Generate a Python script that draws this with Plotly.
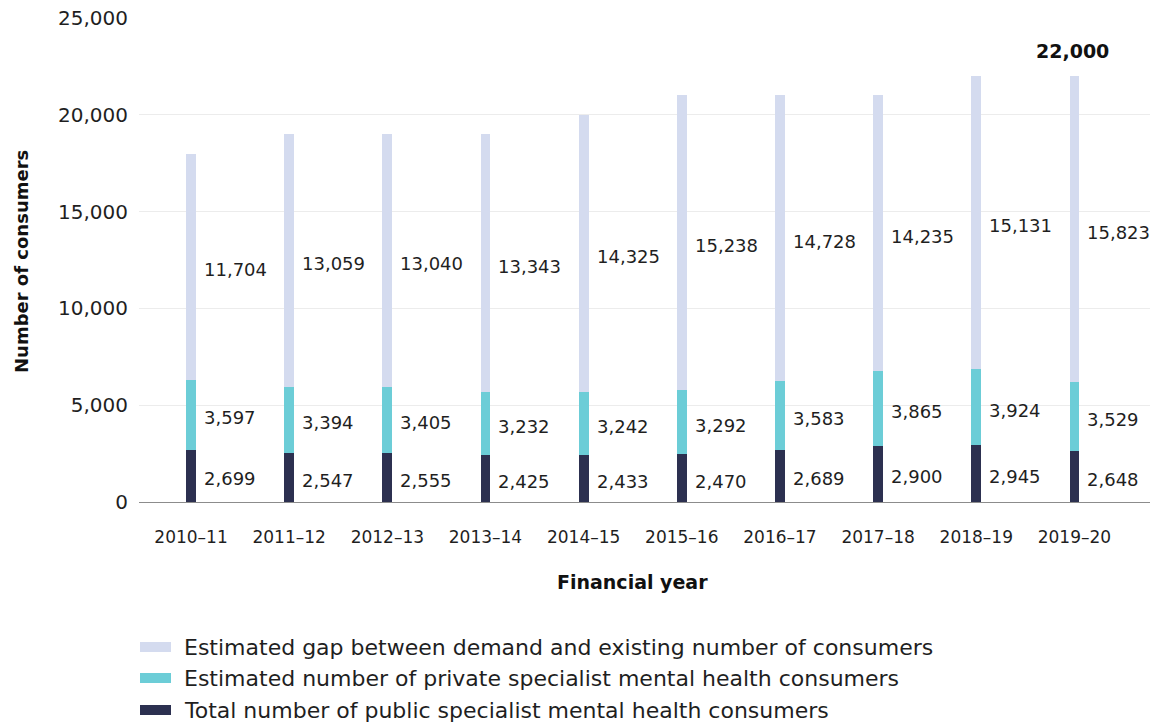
import plotly.graph_objects as go

# Financial years and consumer counts (stacked from bottom to top)
years = ["2010–11", "2011–12", "2012–13", "2013–14", "2014–15",
         "2015–16", "2016–17", "2017–18", "2018–19", "2019–20"]
public_consumers = [2699, 2547, 2555, 2425, 2433, 2470, 2689, 2900, 2945, 2648]
private_consumers = [3597, 3394, 3405, 3232, 3242, 3292, 3583, 3865, 3924, 3529]
demand_gap = [11704, 13059, 13040, 13343, 14325, 15238, 14728, 14235, 15131, 15823]

series_names = [
    "Estimated gap between demand and existing number of consumers",
    "Estimated number of private specialist mental health consumers",
    "Total number of public specialist mental health consumers",
]
y_ticks = [0, 5000, 10000, 15000, 20000, 25000]

FONT = "DejaVu Sans"
TEXT = "#1f1f1f"
C_GAP = "#d4dbef"
C_PRIV = "#6ccdd7"
C_PUB = "#2c3050"

W, H = 1150, 724
M_L, M_R, M_T, M_B = 139, 0, 18, 222
PW, PH = W - M_L - M_R, H - M_T - M_B


def px_x(x):
    return (x - M_L) / PW


def px_y(y):
    return (H - M_B - y) / PH


fig = go.Figure()
stack = [
    (public_consumers, C_PUB, series_names[2]),
    (private_consumers, C_PRIV, series_names[1]),
    (demand_gap, C_GAP, series_names[0]),
]
for vals, col, name in stack:
    fig.add_trace(go.Bar(
        x=years, y=vals, name=name, marker=dict(color=col, line=dict(width=0)),
        width=0.1, showlegend=False, hoverinfo="skip",
    ))

# Value labels to the right of each segment
annotations = []
base = [0] * len(years)
for vals, _, _ in stack:
    for i, v in enumerate(vals):
        annotations.append(dict(
            x=years[i], y=base[i] + v / 2, xref="x", yref="y",
            text=f"{v:,}", showarrow=False, xanchor="left", yanchor="middle",
            xshift=11, yshift=-3, font=dict(family=FONT, size=18, color=TEXT),
        ))
        base[i] += v

# Total above the most recent year
last = len(years) - 1
annotations.append(dict(
    x=years[last], y=base[last], xref="x", yref="y",
    text=f"<b>{base[last]:,}</b>", showarrow=False, xanchor="center",
    yanchor="bottom", yshift=12, xshift=-2,
    font=dict(family=FONT, size=19, color="#111111"),
))

# Axis titles
annotations.append(dict(
    x=px_x(21), y=px_y(262), xref="paper", yref="paper",
    text="<b>Number of consumers</b>", textangle=-90, showarrow=False,
    xanchor="center", yanchor="middle", font=dict(family=FONT, size=18, color="#111111"),
))
annotations.append(dict(
    x=px_x(632), y=px_y(582), xref="paper", yref="paper",
    text="<b>Financial year</b>", showarrow=False,
    xanchor="center", yanchor="middle", font=dict(family=FONT, size=19, color="#111111"),
))

# Legend drawn as swatches + labels
shapes = []
legend_rows = [(series_names[0], C_GAP, 647), (series_names[1], C_PRIV, 678),
               (series_names[2], C_PUB, 710)]
for name, col, yc in legend_rows:
    shapes.append(dict(
        type="rect", xref="paper", yref="paper",
        x0=px_x(140), x1=px_x(171), y0=px_y(yc + 5), y1=px_y(yc - 5),
        fillcolor=col, line=dict(width=0),
    ))
    annotations.append(dict(
        x=px_x(182), y=px_y(yc), xref="paper", yref="paper", text=name,
        showarrow=False, xanchor="left", yanchor="middle",
        font=dict(family=FONT, size=22, color=TEXT),
    ))

fig.update_layout(
    width=W, height=H, margin=dict(l=M_L, r=M_R, t=M_T, b=M_B),
    plot_bgcolor="white", paper_bgcolor="white", barmode="stack",
    font=dict(family=FONT, color=TEXT),
    annotations=annotations, shapes=shapes, showlegend=False,
)
fig.update_xaxes(
    type="category", range=[-0.53, 9.77], showgrid=False,
    showline=True, linecolor="#8c8c8c", linewidth=1,
    ticks="", ticklabelstandoff=20, tickfont=dict(family=FONT, size=17, color=TEXT),
)
fig.update_yaxes(
    range=[0, 25000], tickvals=y_ticks, tickformat=",",
    showgrid=True, gridcolor="#ececec", gridwidth=1, zeroline=False,
    ticks="", ticklabelstandoff=10, tickfont=dict(family=FONT, size=20, color=TEXT),
)

fig.write_html("out.html")
